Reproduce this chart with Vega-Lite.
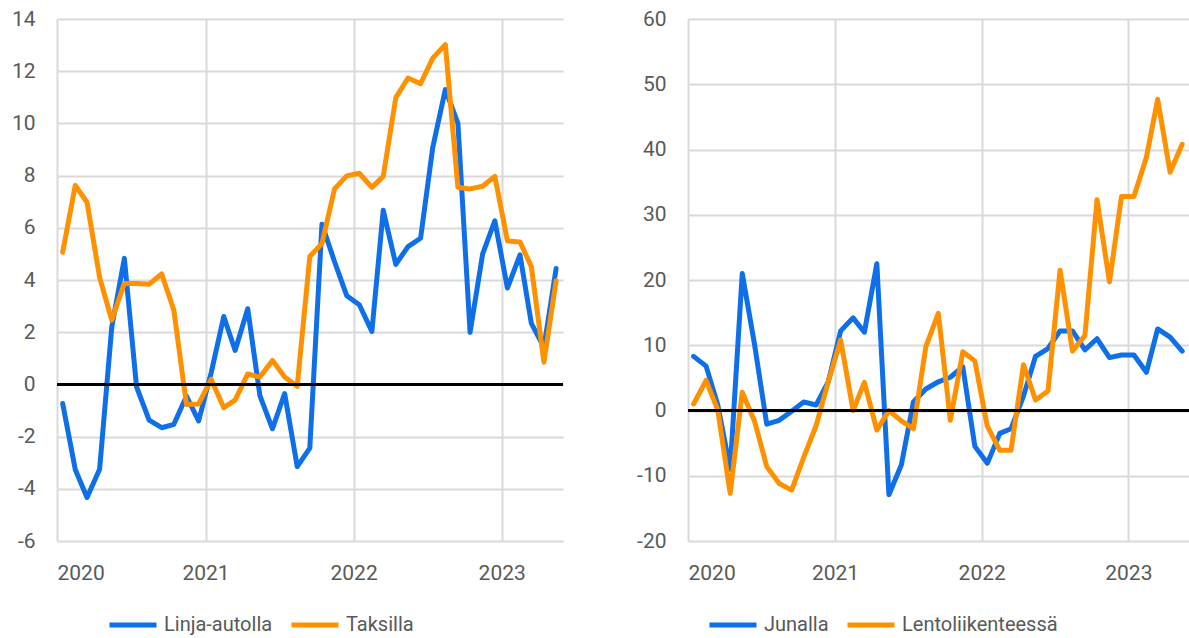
{
  "$schema": "https://vega.github.io/schema/vega-lite/v6.json",
  "padding": {"left": 11, "top": 8, "right": 0, "bottom": 0},
  "bounds": "flush",
  "spacing": 125,
  "config": {
    "font": "Roboto",
    "view": {"stroke": null},
    "axis": {"labelFont": "Roboto", "labelFontSize": 21, "labelColor": "#595959", "gridColor": "#D9D9D9", "gridWidth": 2, "domain": false, "ticks": false, "title": null},
    "legend": {"labelFont": "Roboto", "labelFontSize": 20, "labelColor": "#595959", "labelOffset": 5, "labelLimit": 400}
  },
  "resolve": {"scale": {"color": "independent", "y": "independent"}},
  "datasets": {
    "a": [
      {"d":"2020-01-15","s":"Linja-autolla","v":-0.73},{"d":"2020-02-15","s":"Linja-autolla","v":-3.26},{"d":"2020-03-15","s":"Linja-autolla","v":-4.33},{"d":"2020-04-15","s":"Linja-autolla","v":-3.25},{"d":"2020-05-15","s":"Linja-autolla","v":2.2},{"d":"2020-06-15","s":"Linja-autolla","v":4.83},{"d":"2020-07-15","s":"Linja-autolla","v":-0.09},{"d":"2020-08-15","s":"Linja-autolla","v":-1.37},{"d":"2020-09-15","s":"Linja-autolla","v":-1.66},{"d":"2020-10-15","s":"Linja-autolla","v":-1.53},{"d":"2020-11-15","s":"Linja-autolla","v":-0.45},{"d":"2020-12-15","s":"Linja-autolla","v":-1.4},
      {"d":"2021-01-15","s":"Linja-autolla","v":0.45},{"d":"2021-02-15","s":"Linja-autolla","v":2.6},{"d":"2021-03-15","s":"Linja-autolla","v":1.3},{"d":"2021-04-15","s":"Linja-autolla","v":2.9},{"d":"2021-05-15","s":"Linja-autolla","v":-0.43},{"d":"2021-06-15","s":"Linja-autolla","v":-1.7},{"d":"2021-07-15","s":"Linja-autolla","v":-0.35},{"d":"2021-08-15","s":"Linja-autolla","v":-3.15},{"d":"2021-09-15","s":"Linja-autolla","v":-2.44},{"d":"2021-10-15","s":"Linja-autolla","v":6.14},{"d":"2021-11-15","s":"Linja-autolla","v":4.7},{"d":"2021-12-15","s":"Linja-autolla","v":3.4},
      {"d":"2022-01-15","s":"Linja-autolla","v":3.05},{"d":"2022-02-15","s":"Linja-autolla","v":2.03},{"d":"2022-03-15","s":"Linja-autolla","v":6.67},{"d":"2022-04-15","s":"Linja-autolla","v":4.6},{"d":"2022-05-15","s":"Linja-autolla","v":5.28},{"d":"2022-06-15","s":"Linja-autolla","v":5.6},{"d":"2022-07-15","s":"Linja-autolla","v":9.08},{"d":"2022-08-15","s":"Linja-autolla","v":11.3},{"d":"2022-09-15","s":"Linja-autolla","v":10.0},{"d":"2022-10-15","s":"Linja-autolla","v":1.99},{"d":"2022-11-15","s":"Linja-autolla","v":5.0},{"d":"2022-12-15","s":"Linja-autolla","v":6.27},
      {"d":"2023-01-15","s":"Linja-autolla","v":3.69},{"d":"2023-02-15","s":"Linja-autolla","v":4.96},{"d":"2023-03-15","s":"Linja-autolla","v":2.34},{"d":"2023-04-15","s":"Linja-autolla","v":1.42},{"d":"2023-05-15","s":"Linja-autolla","v":4.44},
      {"d":"2020-01-15","s":"Taksilla","v":5.06},{"d":"2020-02-15","s":"Taksilla","v":7.62},{"d":"2020-03-15","s":"Taksilla","v":6.98},{"d":"2020-04-15","s":"Taksilla","v":4.1},{"d":"2020-05-15","s":"Taksilla","v":2.46},{"d":"2020-06-15","s":"Taksilla","v":3.87},{"d":"2020-07-15","s":"Taksilla","v":3.87},{"d":"2020-08-15","s":"Taksilla","v":3.84},{"d":"2020-09-15","s":"Taksilla","v":4.23},{"d":"2020-10-15","s":"Taksilla","v":2.84},{"d":"2020-11-15","s":"Taksilla","v":-0.77},{"d":"2020-12-15","s":"Taksilla","v":-0.75},
      {"d":"2021-01-15","s":"Taksilla","v":0.19},{"d":"2021-02-15","s":"Taksilla","v":-0.89},{"d":"2021-03-15","s":"Taksilla","v":-0.6},{"d":"2021-04-15","s":"Taksilla","v":0.4},{"d":"2021-05-15","s":"Taksilla","v":0.28},{"d":"2021-06-15","s":"Taksilla","v":0.92},{"d":"2021-07-15","s":"Taksilla","v":0.28},{"d":"2021-08-15","s":"Taksilla","v":-0.07},{"d":"2021-09-15","s":"Taksilla","v":4.9},{"d":"2021-10-15","s":"Taksilla","v":5.4},{"d":"2021-11-15","s":"Taksilla","v":7.49},{"d":"2021-12-15","s":"Taksilla","v":7.99},
      {"d":"2022-01-15","s":"Taksilla","v":8.09},{"d":"2022-02-15","s":"Taksilla","v":7.55},{"d":"2022-03-15","s":"Taksilla","v":7.97},{"d":"2022-04-15","s":"Taksilla","v":10.99},{"d":"2022-05-15","s":"Taksilla","v":11.74},{"d":"2022-06-15","s":"Taksilla","v":11.52},{"d":"2022-07-15","s":"Taksilla","v":12.5},{"d":"2022-08-15","s":"Taksilla","v":13.02},{"d":"2022-09-15","s":"Taksilla","v":7.55},{"d":"2022-10-15","s":"Taksilla","v":7.49},{"d":"2022-11-15","s":"Taksilla","v":7.59},{"d":"2022-12-15","s":"Taksilla","v":7.97},
      {"d":"2023-01-15","s":"Taksilla","v":5.5},{"d":"2023-02-15","s":"Taksilla","v":5.46},{"d":"2023-03-15","s":"Taksilla","v":4.51},{"d":"2023-04-15","s":"Taksilla","v":0.85},{"d":"2023-05-15","s":"Taksilla","v":3.97}
    ],
    "b": [
      {"d":"2020-01-15","s":"Junalla","v":8.3},{"d":"2020-02-15","s":"Junalla","v":6.8},{"d":"2020-03-15","s":"Junalla","v":0.9},{"d":"2020-04-15","s":"Junalla","v":-9},{"d":"2020-05-15","s":"Junalla","v":21.0},{"d":"2020-06-15","s":"Junalla","v":10.0},{"d":"2020-07-15","s":"Junalla","v":-2.1},{"d":"2020-08-15","s":"Junalla","v":-1.5},{"d":"2020-09-15","s":"Junalla","v":-0.1},{"d":"2020-10-15","s":"Junalla","v":1.3},{"d":"2020-11-15","s":"Junalla","v":0.85},{"d":"2020-12-15","s":"Junalla","v":4.4},
      {"d":"2021-01-15","s":"Junalla","v":12.2},{"d":"2021-02-15","s":"Junalla","v":14.2},{"d":"2021-03-15","s":"Junalla","v":12.0},{"d":"2021-04-15","s":"Junalla","v":22.5},{"d":"2021-05-15","s":"Junalla","v":-12.9},{"d":"2021-06-15","s":"Junalla","v":-8.35},{"d":"2021-07-15","s":"Junalla","v":1.3},{"d":"2021-08-15","s":"Junalla","v":3.3},{"d":"2021-09-15","s":"Junalla","v":4.4},{"d":"2021-10-15","s":"Junalla","v":5.1},{"d":"2021-11-15","s":"Junalla","v":6.7},{"d":"2021-12-15","s":"Junalla","v":-5.5},
      {"d":"2022-01-15","s":"Junalla","v":-8.1},{"d":"2022-02-15","s":"Junalla","v":-3.5},{"d":"2022-03-15","s":"Junalla","v":-2.8},{"d":"2022-04-15","s":"Junalla","v":2.2},{"d":"2022-05-15","s":"Junalla","v":8.3},{"d":"2022-06-15","s":"Junalla","v":9.5},{"d":"2022-07-15","s":"Junalla","v":12.2},{"d":"2022-08-15","s":"Junalla","v":12.2},{"d":"2022-09-15","s":"Junalla","v":9.3},{"d":"2022-10-15","s":"Junalla","v":11.0},{"d":"2022-11-15","s":"Junalla","v":8.1},{"d":"2022-12-15","s":"Junalla","v":8.5},
      {"d":"2023-01-15","s":"Junalla","v":8.5},{"d":"2023-02-15","s":"Junalla","v":5.85},{"d":"2023-03-15","s":"Junalla","v":12.5},{"d":"2023-04-15","s":"Junalla","v":11.25},{"d":"2023-05-15","s":"Junalla","v":9.1},
      {"d":"2020-01-15","s":"Lentoliikenteessä","v":1.0},{"d":"2020-02-15","s":"Lentoliikenteessä","v":4.6},{"d":"2020-03-15","s":"Lentoliikenteessä","v":0.1},{"d":"2020-04-15","s":"Lentoliikenteessä","v":-12.7},{"d":"2020-05-15","s":"Lentoliikenteessä","v":2.8},{"d":"2020-06-15","s":"Lentoliikenteessä","v":-1.7},{"d":"2020-07-15","s":"Lentoliikenteessä","v":-8.6},{"d":"2020-08-15","s":"Lentoliikenteessä","v":-11.2},{"d":"2020-09-15","s":"Lentoliikenteessä","v":-12.2},{"d":"2020-10-15","s":"Lentoliikenteessä","v":-7.2},{"d":"2020-11-15","s":"Lentoliikenteessä","v":-2.3},{"d":"2020-12-15","s":"Lentoliikenteessä","v":4.4},
      {"d":"2021-01-15","s":"Lentoliikenteessä","v":10.8},{"d":"2021-02-15","s":"Lentoliikenteessä","v":0.0},{"d":"2021-03-15","s":"Lentoliikenteessä","v":4.3},{"d":"2021-04-15","s":"Lentoliikenteessä","v":-3.0},{"d":"2021-05-15","s":"Lentoliikenteessä","v":0.0},{"d":"2021-06-15","s":"Lentoliikenteessä","v":-1.6},{"d":"2021-07-15","s":"Lentoliikenteessä","v":-2.8},{"d":"2021-08-15","s":"Lentoliikenteessä","v":9.8},{"d":"2021-09-15","s":"Lentoliikenteessä","v":14.9},{"d":"2021-10-15","s":"Lentoliikenteessä","v":-1.5},{"d":"2021-11-15","s":"Lentoliikenteessä","v":9.0},{"d":"2021-12-15","s":"Lentoliikenteessä","v":7.6},
      {"d":"2022-01-15","s":"Lentoliikenteessä","v":-2.4},{"d":"2022-02-15","s":"Lentoliikenteessä","v":-6.1},{"d":"2022-03-15","s":"Lentoliikenteessä","v":-6.1},{"d":"2022-04-15","s":"Lentoliikenteessä","v":7.0},{"d":"2022-05-15","s":"Lentoliikenteessä","v":1.6},{"d":"2022-06-15","s":"Lentoliikenteessä","v":3.0},{"d":"2022-07-15","s":"Lentoliikenteessä","v":21.5},{"d":"2022-08-15","s":"Lentoliikenteessä","v":9.1},{"d":"2022-09-15","s":"Lentoliikenteessä","v":11.5},{"d":"2022-10-15","s":"Lentoliikenteessä","v":32.3},{"d":"2022-11-15","s":"Lentoliikenteessä","v":19.7},{"d":"2022-12-15","s":"Lentoliikenteessä","v":32.8},
      {"d":"2023-01-15","s":"Lentoliikenteessä","v":32.8},{"d":"2023-02-15","s":"Lentoliikenteessä","v":38.8},{"d":"2023-03-15","s":"Lentoliikenteessä","v":47.7},{"d":"2023-04-15","s":"Lentoliikenteessä","v":36.5},{"d":"2023-05-15","s":"Lentoliikenteessä","v":40.8}
    ]
  },
  "hconcat": [
    {
      "width": 506,
      "height": 522,
      "data": {"name": "a"},
      "layer": [
        {
          "mark": {"type": "line", "strokeWidth": 5, "strokeJoin": "round", "strokeCap": "round"},
          "encoding": {
            "x": {"field": "d", "type": "temporal", "scale": {"domain": [{"year": 2020, "month": 1, "date": 1}, {"year": 2023, "month": 6, "date": 1}]}, "axis": {"values": [{"year": 2020, "month": 1, "date": 1}, {"year": 2021, "month": 1, "date": 1}, {"year": 2022, "month": 1, "date": 1}, {"year": 2023, "month": 1, "date": 1}], "format": "%Y", "labelPadding": 21}},
            "y": {"field": "v", "type": "quantitative", "scale": {"domain": [-6, 14], "nice": false}, "axis": {"values": [-6, -4, -2, 0, 2, 4, 6, 8, 10, 12, 14], "labelPadding": 22, "labelExpr": "'' + datum.value"}},
            "color": {"field": "s", "type": "nominal", "scale": {"domain": ["Linja-autolla", "Taksilla"], "range": ["#0E6FE8", "#FF9100"]}, "legend": {"title": null, "orient": "none", "direction": "horizontal", "legendX": 50, "legendY": 580, "symbolType": "stroke", "symbolSize": 2209, "symbolStrokeWidth": 5, "columnPadding": 8}}
          }
        },
        {
          "mark": {"type": "rule", "color": "black", "strokeWidth": 2},
          "encoding": {"y": {"datum": 0}}
        }
      ]
    },
    {
      "width": 501,
      "height": 522,
      "data": {"name": "b"},
      "layer": [
        {
          "mark": {"type": "line", "strokeWidth": 5, "strokeJoin": "round", "strokeCap": "round"},
          "encoding": {
            "x": {"field": "d", "type": "temporal", "scale": {"domain": [{"year": 2020, "month": 1, "date": 1}, {"year": 2023, "month": 6, "date": 1}]}, "axis": {"values": [{"year": 2020, "month": 1, "date": 1}, {"year": 2021, "month": 1, "date": 1}, {"year": 2022, "month": 1, "date": 1}, {"year": 2023, "month": 1, "date": 1}], "format": "%Y", "labelPadding": 21}},
            "y": {"field": "v", "type": "quantitative", "scale": {"domain": [-20, 60], "nice": false}, "axis": {"values": [-20, -10, 0, 10, 20, 30, 40, 50, 60], "labelPadding": 22, "labelExpr": "'' + datum.value"}},
            "color": {"field": "s", "type": "nominal", "scale": {"domain": ["Junalla", "Lentoliikenteessä"], "range": ["#0E6FE8", "#FF9100"]}, "legend": {"title": null, "orient": "none", "direction": "horizontal", "legendX": 19, "legendY": 580, "symbolType": "stroke", "symbolSize": 2209, "symbolStrokeWidth": 5, "columnPadding": 8}}
          }
        },
        {
          "mark": {"type": "rule", "color": "black", "strokeWidth": 2},
          "encoding": {"y": {"datum": 0}}
        }
      ]
    }
  ]
}
